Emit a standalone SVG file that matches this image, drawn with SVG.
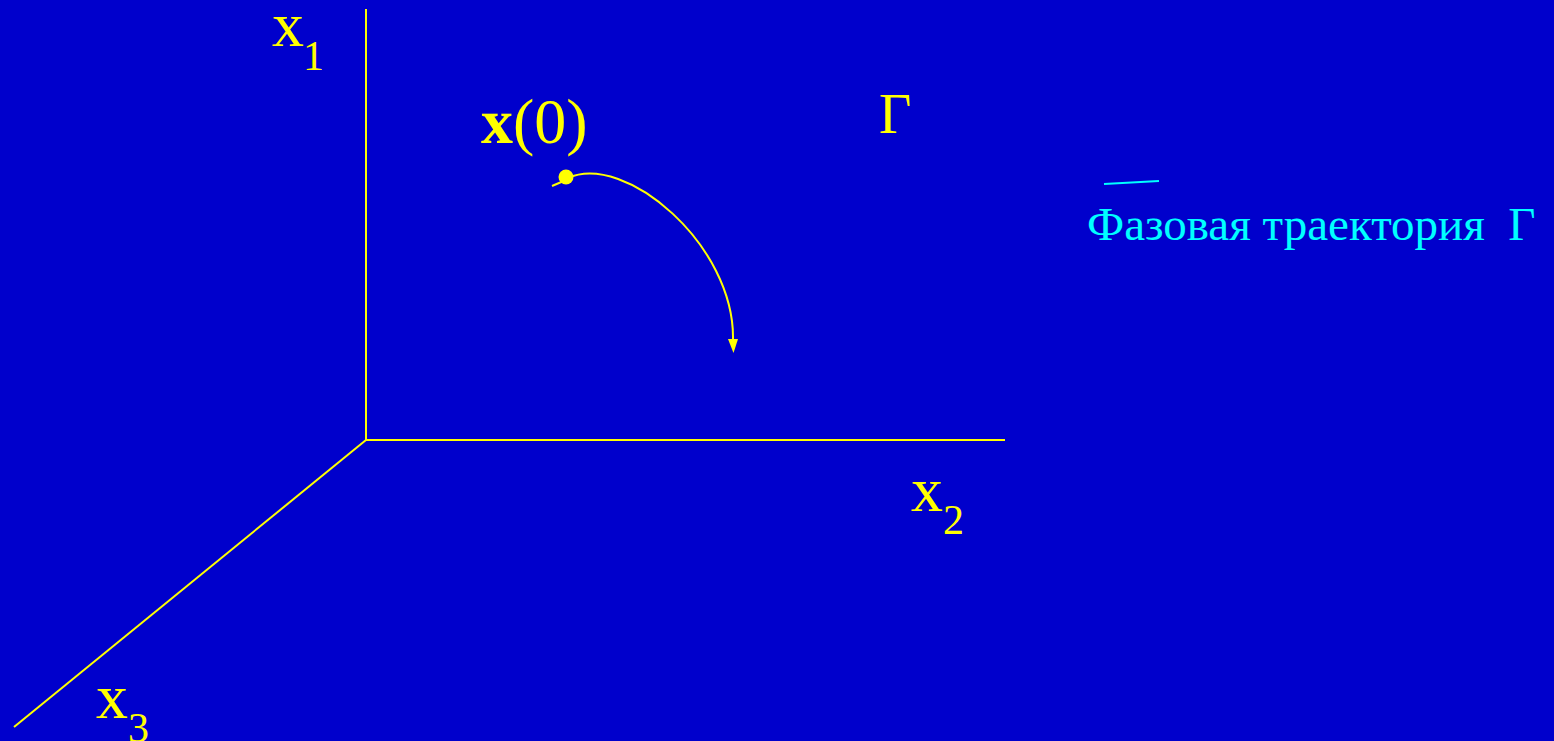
<svg xmlns="http://www.w3.org/2000/svg" width="1554" height="741" viewBox="0 0 1554 741">
<style>
.ax{stroke:#FFFF00;stroke-width:2;fill:none}
.lbl{font-family:"Liberation Serif",serif;fill:#FFFF00}
.cy{font-family:"Liberation Serif",serif;fill:#00FFFF}
.big{font-size:64px}
.sub{font-size:42px}
</style>
<rect width="1554" height="741" fill="#0000CC"/>
<g id="axes">
<line class="ax" x1="366" y1="9" x2="366" y2="440"/>
<line class="ax" x1="366" y1="440" x2="1005" y2="440"/>
<line class="ax" x1="366" y1="440" x2="14" y2="727"/>
</g>
<g id="label-x1"><text class="lbl big" x="272" y="46">x</text><text class="lbl sub" x="303" y="70">1</text></g>
<g id="label-x2"><text class="lbl big" x="911" y="511">x</text><text class="lbl sub" x="943" y="534">2</text></g>
<g id="label-x3"><text class="lbl big" x="96" y="718">x</text><text class="lbl sub" x="128" y="742">3</text></g>
<g id="label-gamma"><text class="lbl" x="879" y="133" font-size="56">Г</text></g>
<g id="label-x0"><text class="lbl" x="481" y="143" font-size="64"><tspan font-weight="bold">x</tspan>(0)</text></g>
<g id="trajectory">
<line x1="552" y1="186" x2="566" y2="180" stroke="#FFFF00" stroke-width="2"/>
<path d="M568,178 C625,152 735,245 733,340" stroke="#FFFF00" stroke-width="2" fill="none"/>
<path d="M728,339 L738,339 L733.5,353 Z" fill="#FFFF00"/>
<circle cx="566" cy="177" r="7.5" fill="#FFFF00"/>
</g>
<g id="legend">
<line x1="1104" y1="184" x2="1159" y2="181" stroke="#00FFFF" stroke-width="2"/>
<text class="cy" x="1087" y="240" font-size="47" xml:space="preserve">Фазовая траектория  Г</text>
</g>
</svg>
